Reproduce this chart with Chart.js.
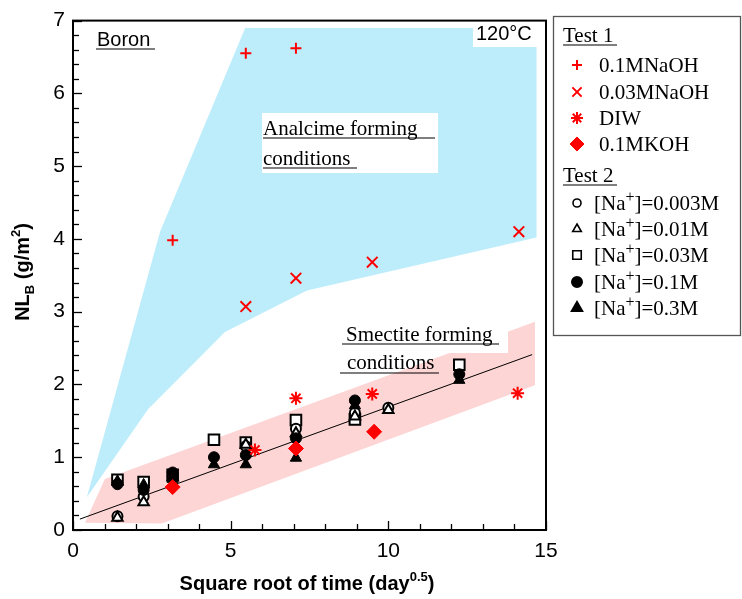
<!DOCTYPE html>
<html>
<head>
<meta charset="utf-8">
<script src="https://cdn.jsdelivr.net/npm/chart.js@4.4.1/dist/chart.umd.min.js"></script>
<style>
  html, body { margin: 0; padding: 0; background: #ffffff; }
  #wrap { width: 742px; height: 599px; position: relative; }
</style>
</head>
<body>
<div id="wrap"><canvas id="c" width="742" height="599"></canvas></div>
<script>
// ---------- Data ----------
// Test 1
const tNaOH01 = [3.16, 5.48, 7.07];
const nlNaOH01 = [3.98, 6.55, 6.62];
const tNaOH003 = [5.48, 7.07, 9.49, 14.14];
const nlNaOH003 = [3.07, 3.46, 3.68, 4.10];
const tDIW = [5.77, 7.07, 9.49, 14.10];
const nlDIW = [1.10, 1.81, 1.87, 1.88];
const tKOH = [3.16, 7.07, 9.55];
const nlKOH = [0.59, 1.12, 1.35];
// Test 2
const tNa0003 = [1.41, 2.24, 3.16, 5.48, 7.07, 8.94, 10.0];
const nlNa0003 = [0.19, 0.46, 0.74, 1.15, 1.39, 1.61, 1.68];
const tNa001 = [1.41, 2.24, 3.16, 5.48, 7.07, 8.94, 10.0];
const nlNa001 = [0.17, 0.38, 0.72, 1.17, 1.33, 1.56, 1.65];
const tNa003 = [1.41, 2.24, 3.16, 4.47, 5.48, 7.07, 8.94, 12.25];
const nlNa003 = [0.69, 0.66, 0.76, 1.24, 1.20, 1.51, 1.52, 2.27];
const tNa01 = [1.41, 2.24, 3.16, 4.47, 5.48, 7.07, 8.94, 12.25];
const nlNa01 = [0.63, 0.55, 0.79, 1.00, 1.03, 1.26, 1.78, 2.14];
const tNa03 = [1.41, 2.24, 3.16, 4.47, 5.48, 7.07, 8.94, 12.25];
const nlNa03 = [0.67, 0.62, 0.70, 0.90, 0.90, 0.99, 1.71, 2.06];
// Trend line
const tTrend = [0.22, 14.56];
const nlTrend = [0.15, 2.41];
// Regions
const analcimeX = [0.44, 2.76, 5.46, 14.7, 14.7, 7.42, 4.82, 2.38];
const analcimeY = [0.45, 4.10, 6.90, 6.90, 4.02, 3.29, 2.72, 1.66];
const smectiteX = [0.38, 1.01, 14.65, 14.65, 2.82];
const smectiteY = [0.10, 0.70, 2.86, 1.99, 0.09];
// Axis ticks
const xTickLabels = [0, 5, 10, 15];
const yTickLabels = [0, 1, 2, 3, 4, 5, 6, 7];

const pts = (xs, ys) => xs.map((x, i) => ({ x: x, y: ys[i] }));

const RED = '#ff0000';
const SANS = '"Liberation Sans", Arial, sans-serif';
const SERIF = '"Liberation Serif", "Times New Roman", serif';

const datasets = [
  { label: '0.1MNaOH', group: 1, data: pts(tNaOH01, nlNaOH01), pointStyle: 'cross', pointRadius: 5.5, borderColor: RED, backgroundColor: RED, pointBorderWidth: 2, order: 1, lg: { r: 5 } },
  { label: '0.03MNaOH', group: 1, data: pts(tNaOH003, nlNaOH003), pointStyle: 'crossRot', pointRadius: 7.5, borderColor: RED, backgroundColor: RED, pointBorderWidth: 2, order: 1, lg: { r: 6.5 } },
  { label: 'DIW', group: 1, data: pts(tDIW, nlDIW), pointStyle: 'star', pointRadius: 6.5, borderColor: RED, backgroundColor: RED, pointBorderWidth: 2, order: 1, lg: { r: 6 } },
  { label: '0.1MKOH', group: 1, data: pts(tKOH, nlKOH), pointStyle: 'rectRot', pointRadius: 7.5, borderColor: RED, backgroundColor: RED, pointBorderWidth: 1, order: 2, lg: { r: 7 } },
  { label: '[Na+]=0.003M', group: 2, data: pts(tNa0003, nlNa0003), pointStyle: 'circle', pointRadius: 5, borderColor: '#000', backgroundColor: '#fff', pointBorderWidth: 2, order: 5, lg: { r: 4 } },
  { label: '[Na+]=0.01M', group: 2, data: pts(tNa001, nlNa001), pointStyle: 'triangle', pointRadius: 6, borderColor: '#000', backgroundColor: '#fff', pointBorderWidth: 2, order: 4, lg: { r: 5 } },
  { label: '[Na+]=0.03M', group: 2, data: pts(tNa003, nlNa003), pointStyle: 'rect', pointRadius: 7.5, borderColor: '#000', backgroundColor: '#fff', pointBorderWidth: 2, order: 6, lg: { r: 6 } },
  { label: '[Na+]=0.1M', group: 2, data: pts(tNa01, nlNa01), pointStyle: 'circle', pointRadius: 5.5, borderColor: '#000', backgroundColor: '#000', pointBorderWidth: 1, order: 3, lg: { r: 5 } },
  { label: '[Na+]=0.3M', group: 2, data: pts(tNa03, nlNa03), pointStyle: 'triangle', pointRadius: 6.5, borderColor: '#000', backgroundColor: '#000', pointBorderWidth: 1, order: 3, lg: { r: 6 } },
  { label: 'trend', group: 0, data: pts(tTrend, nlTrend), showLine: true, pointRadius: 0, borderColor: '#000', borderWidth: 1, order: 7 }
];

function polygon(ctx, xs, ys, sx, sy, color) {
  ctx.save();
  ctx.beginPath();
  xs.forEach((x, i) => {
    const px = sx.getPixelForValue(x), py = sy.getPixelForValue(ys[i]);
    if (i === 0) ctx.moveTo(px, py); else ctx.lineTo(px, py);
  });
  ctx.closePath();
  ctx.fillStyle = color;
  ctx.fill();
  ctx.restore();
}

function underline(ctx, x1, x2, y, w) {
  ctx.beginPath();
  ctx.lineWidth = w || 1.2;
  ctx.strokeStyle = '#000';
  ctx.moveTo(x1, y); ctx.lineTo(x2, y); ctx.stroke();
}

const backgroundPlugin = {
  id: 'regions',
  beforeDatasetsDraw(chart) {
    const ctx = chart.ctx, sx = chart.scales.x, sy = chart.scales.y;
    polygon(ctx, analcimeX, analcimeY, sx, sy, '#bdedfb');
    polygon(ctx, smectiteX, smectiteY, sx, sy, '#fdd5d5');
    ctx.save();
    // white label boxes
    ctx.fillStyle = '#fff';
    ctx.fillRect(262, 113, 176, 60);
    ctx.fillRect(338, 318, 170, 35);
    ctx.fillRect(473, 20, 64, 27);
    ctx.fillStyle = '#000';
    ctx.textBaseline = 'alphabetic';
    ctx.textAlign = 'left';
    ctx.font = '21px ' + SERIF;
    ctx.fillText('Analcime forming', 263, 135);
    underline(ctx, 263, 435, 138);
    ctx.fillText('conditions', 263, 165);
    underline(ctx, 263, 357, 168);
    ctx.fillText('Smectite forming', 346, 341);
    underline(ctx, 342, 499, 344);
    ctx.fillText('conditions', 347, 369);
    underline(ctx, 340, 439, 373);
    ctx.font = '20px ' + SANS;
    ctx.fillText('Boron', 97, 46);
    underline(ctx, 96, 155, 49);
    ctx.fillText('120\u00B0C', 476, 40);
    ctx.restore();
  },
  afterDatasetsDraw(chart) {
    const ctx = chart.ctx, sx = chart.scales.x, sy = chart.scales.y;
    const a = chart.chartArea;
    ctx.save();
    ctx.strokeStyle = '#000';
    // inward ticks
    ctx.lineWidth = 1.3;
    for (let v = 0; v <= 15.001; v += 1) {
      const px = Math.round(sx.getPixelForValue(v)) + 0.5;
      const len = (Math.abs(v % 5) < 1e-6) ? 9 : 6;
      ctx.beginPath(); ctx.moveTo(px, a.bottom); ctx.lineTo(px, a.bottom - len); ctx.stroke();
    }
    for (let k = 0; k <= 35; k++) {
      const v = k * 0.2;
      const py = Math.round(sy.getPixelForValue(v)) + 0.5;
      const len = (k % 5 === 0) ? 9 : 6;
      ctx.beginPath(); ctx.moveTo(a.left, py); ctx.lineTo(a.left + len, py); ctx.stroke();
    }
    // frame
    ctx.lineWidth = 2;
    ctx.strokeRect(a.left, a.top, a.right - a.left, a.bottom - a.top);

    // axis titles
    ctx.fillStyle = '#000';
    ctx.textBaseline = 'alphabetic';
    const big = 'bold 20px ' + SANS, small = 'bold 13px ' + SANS;
    ctx.font = big; const p1 = 'Square root of time (day'; const w1 = ctx.measureText(p1).width;
    ctx.font = small; const w2 = ctx.measureText('0.5').width;
    ctx.font = big; const w3 = ctx.measureText(')').width;
    let x0 = 307 - (w1 + w2 + w3) / 2;
    const by = 590;
    ctx.textAlign = 'left';
    ctx.font = big; ctx.fillText(p1, x0, by);
    ctx.font = small; ctx.fillText('0.5', x0 + w1, by - 9);
    ctx.font = big; ctx.fillText(')', x0 + w1 + w2, by);
    ctx.save();
    ctx.translate(29, 272);
    ctx.rotate(-Math.PI / 2);
    const parts = [['NL', big, 0], ['B', small, 5], [' (g/m', big, 0], ['2', small, -9], [')', big, 0]];
    let tw = 0;
    parts.forEach(p => { ctx.font = p[1]; tw += ctx.measureText(p[0]).width; });
    let cx = -tw / 2;
    parts.forEach(p => { ctx.font = p[1]; ctx.fillText(p[0], cx, p[2]); cx += ctx.measureText(p[0]).width; });
    ctx.restore();

    // Legend
    ctx.lineWidth = 1.3;
    ctx.strokeStyle = '#555';
    ctx.strokeRect(553.5, 16.5, 187, 319);
    ctx.fillStyle = '#000';
    ctx.font = '21px ' + SERIF;
    ctx.fillText('Test 1', 563, 42);
    underline(ctx, 563, 617, 45);
    ctx.fillText('Test 2', 563, 182);
    underline(ctx, 563, 617, 185);
    const rows1 = [65, 92, 118, 144];
    const rows2 = [203, 229, 255, 282, 308];
    let i1 = 0, i2 = 0;
    chart.data.datasets.forEach(ds => {
      if (!ds.group) return;
      const yy = ds.group === 1 ? rows1[i1++] : rows2[i2++];
      ctx.save();
      ctx.fillStyle = ds.backgroundColor;
      ctx.strokeStyle = ds.borderColor;
      ctx.lineWidth = ds.group === 2 && ds.backgroundColor === '#fff' ? 1.6 : (ds.pointStyle === 'rectRot' ? 1 : 2);
      Chart.helpers.drawPoint(ctx, { pointStyle: ds.pointStyle, radius: ds.lg.r, borderWidth: ctx.lineWidth, rotation: 0 }, 577, yy);
      ctx.restore();
      ctx.fillStyle = '#000';
      ctx.font = '21px ' + SERIF;
      if (ds.group === 1) {
        ctx.fillText(ds.label, 599, yy + 7);
      } else {
        const m = ds.label.split('+');
        let xx = 594;
        ctx.font = '21px ' + SERIF; ctx.fillText(m[0], xx, yy + 7); xx += ctx.measureText(m[0]).width;
        ctx.font = '16px ' + SERIF; ctx.fillText('+', xx, yy - 1); xx += ctx.measureText('+').width;
        ctx.font = '21px ' + SERIF; ctx.fillText(m[1], xx, yy + 7);
      }
    });
    ctx.restore();
  }
};

new Chart(document.getElementById('c'), {
  type: 'scatter',
  data: { datasets: datasets },
  options: {
    responsive: false,
    animation: false,
    devicePixelRatio: 1,
    layout: { padding: { left: 0, top: 12, right: 196, bottom: 0 } },
    plugins: { legend: { display: false }, tooltip: { enabled: false } },
    scales: {
      x: {
        type: 'linear', min: 0, max: 15,
        afterFit: s => { s.height = 69; },
        afterBuildTicks: s => { s.ticks = xTickLabels.map(v => ({ value: v })); },
        ticks: { font: { family: SANS, size: 21 }, color: '#000', padding: 9, maxRotation: 0 },
        grid: { display: true, drawOnChartArea: false, drawTicks: false, color: 'rgba(0,0,0,0)' },
        border: { display: false }
      },
      y: {
        type: 'linear', min: 0, max: 7,
        afterFit: s => { s.width = 73; },
        afterBuildTicks: s => { s.ticks = yTickLabels.map(v => ({ value: v })); },
        ticks: { font: { family: SANS, size: 21 }, color: '#000', padding: 8 },
        grid: { display: true, drawOnChartArea: false, drawTicks: false, color: 'rgba(0,0,0,0)' },
        border: { display: false }
      }
    }
  },
  plugins: [backgroundPlugin]
});
</script>
</body>
</html>
